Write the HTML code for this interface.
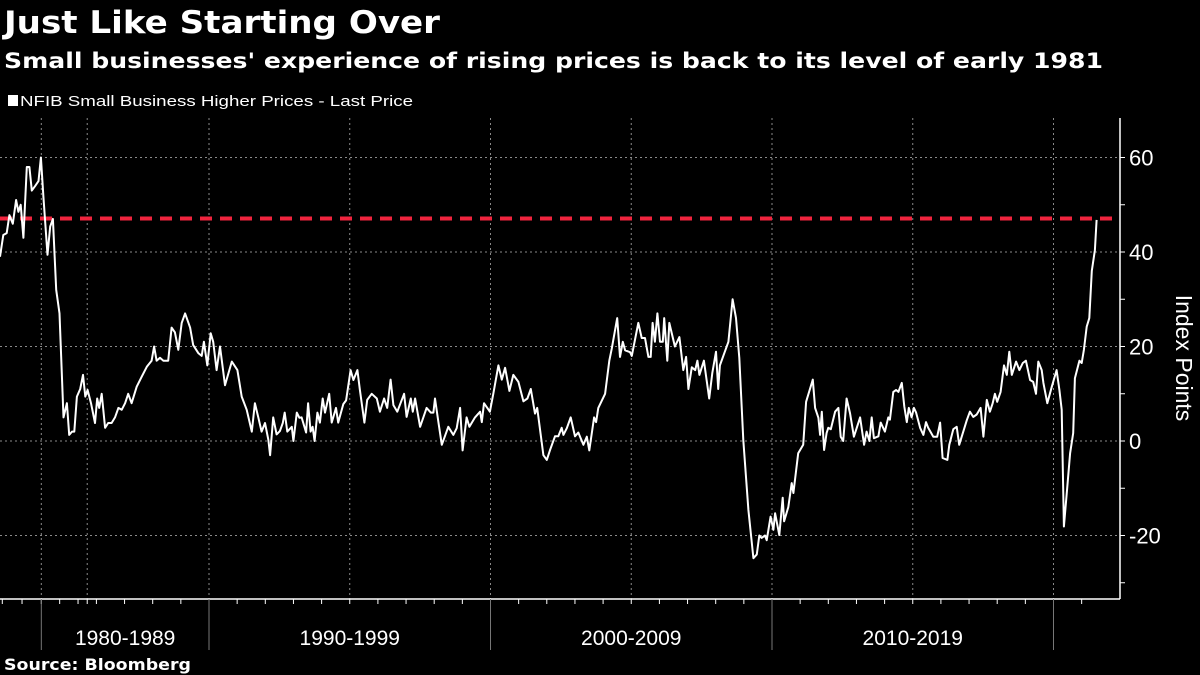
<!DOCTYPE html>
<html><head><meta charset="utf-8">
<style>
html,body{margin:0;padding:0;background:#000;}
svg{display:block;font-family:"Liberation Sans","DejaVu Sans",sans-serif;}
</style></head>
<body>
<svg id="chart" width="1200" height="675" viewBox="0 0 1200 675">
<rect x="0" y="0" width="1200" height="675" fill="#000"/>
<text x="4" y="33" fill="#fff" font-size="31" font-weight="bold" textLength="436" lengthAdjust="spacingAndGlyphs" font-family="DejaVu Sans, sans-serif">Just Like Starting Over</text>
<text x="4" y="68" fill="#fff" font-size="21" font-weight="bold" textLength="1099" lengthAdjust="spacingAndGlyphs" font-family="DejaVu Sans, sans-serif">Small businesses' experience of rising prices is back to its level of early 1981</text>
<g>
<rect x="8" y="95" width="10" height="11" fill="#fff"/>
<text x="20" y="106" fill="#fff" font-size="15" textLength="393" lengthAdjust="spacingAndGlyphs">NFIB Small Business Higher Prices - Last Price</text>
</g>
<g id="grid"></g>
<g id="xaxis"></g>
<g id="yaxis"></g>
<g id="series"></g>
<text transform="translate(1176,358) rotate(90)" fill="#fff" font-size="23" text-anchor="middle">Index Points</text>
<text x="4" y="670" fill="#fff" font-size="16" font-weight="bold" textLength="187" lengthAdjust="spacingAndGlyphs" font-family="DejaVu Sans, sans-serif">Source: Bloomberg</text>
</svg>
<script>
const dates = [1975.50,1975.86,1976.23,1976.52,1976.89,1977.25,1977.50,1977.76,1978.05,1978.42,1978.70,1978.96,1979.33,1979.69,1979.95,1980.23,1980.67,1980.97,1981.26,1981.62,1981.98,1982.42,1982.79,1983.04,1983.34,1983.59,1983.88,1984.24,1984.54,1984.79,1985.04,1985.41,1985.85,
1986.03,1986.10,1986.19,1986.31,1986.42,1986.54,1986.66,1986.78,1986.90,1987.02,1987.13,1987.25,1987.43,1987.61,1987.79,1987.96,1988.05,1988.14,1988.26,1988.38,1988.55,1988.67,1988.79,1988.91,1989.03,1989.15,1989.33,1989.44,1989.62,1989.74,1989.82,1989.94,
1990.06,1990.15,1990.27,1990.39,1990.57,1990.81,1991.01,1991.16,1991.34,1991.52,1991.63,1991.75,1991.87,1991.99,1992.11,1992.17,1992.28,1992.40,1992.52,1992.62,1992.69,1992.78,1992.94,1993.00,1993.12,1993.21,1993.29,1993.45,1993.52,1993.61,1993.68,1993.75,1993.85,1993.94,
1994.04,1994.12,1994.27,1994.36,1994.51,1994.59,1994.77,1994.87,1995.03,1995.13,1995.27,1995.36,1995.52,1995.62,1995.78,1995.96,1996.07,1996.22,1996.33,1996.45,1996.55,1996.69,1996.93,1997.02,1997.17,1997.24,1997.32,1997.50,1997.73,1997.88,1997.97,
1998.03,1998.15,1998.27,1998.50,1998.68,1998.80,1998.92,1999.01,1999.15,1999.25,1999.45,1999.63,1999.69,1999.77,1999.98,2000.10,2000.28,2000.40,2000.52,2000.67,2000.81,2000.99,2001.17,2001.31,2001.43,2001.58,2001.66,2001.88,2002.00,2002.11,2002.29,2002.41,2002.53,2002.59,2002.71,2002.85,2003.00,2003.12,
2003.30,2003.42,2003.51,2003.68,2003.75,2003.83,2004.07,2004.22,2004.31,2004.50,2004.60,2004.70,2004.78,2004.96,2005.02,2005.25,2005.37,2005.49,2005.61,2005.69,2005.76,2005.84,2005.93,2006.02,2006.12,2006.17,2006.28,2006.35,2006.55,2006.71,2006.85,2006.95,
2007.03,2007.15,2007.27,2007.35,2007.42,2007.58,2007.77,2007.88,2008.01,2008.09,2008.15,2008.45,2008.60,2008.72,2008.84,2008.98,2009.16,2009.34,2009.46,2009.55,2009.63,2009.75,2009.81,2009.95,2010.05,2010.11,2010.26,2010.38,2010.43,2010.58,2010.70,2010.76,2010.93,
2011.11,2011.21,2011.45,2011.53,2011.65,2011.71,2011.77,2011.85,2011.94,2012.00,2012.09,2012.24,2012.36,2012.44,2012.53,2012.65,2012.77,2012.91,2013.13,2013.27,2013.36,2013.46,2013.54,2013.62,2013.78,2013.86,2014.01,2014.13,2014.19,2014.31,2014.41,2014.49,2014.61,2014.70,2014.79,2014.86,2014.96,
2015.04,2015.12,2015.26,2015.38,2015.47,2015.55,2015.73,2015.87,2015.97,2016.06,2016.23,2016.30,2016.44,2016.56,2016.65,2016.92,2017.03,2017.15,2017.27,2017.41,2017.51,2017.63,2017.74,2017.84,2017.92,2018.00,2018.12,2018.24,2018.34,2018.43,2018.52,2018.67,2018.79,2018.91,
2019.02,2019.17,2019.28,2019.38,2019.46,2019.58,2019.64,2019.78,2019.94,2020.11,2020.21,2020.29,2020.37,2020.49,2020.59,2020.70,2020.76,2020.92,2021.00,2021.08,2021.18,2021.27,2021.36,2021.47,2021.53];
const values = [39,43.6,44,47.8,46,51,48.5,50,43,58,58,53,54,55,60,51.7,39.4,45.4,47,32,27,5,8,1.3,2,2,9.4,11,14,9.4,10.8,8,3.8,
9,7,10,2.8,3.8,3.8,5,7,6.6,8,10,8,11.5,13.6,15.7,17,20,17,17.6,17,17,24,23,19.3,25,27,24,20.3,18.6,18,21,16,
22.8,21,15,20,11.8,16.8,15,9.4,6.6,2,8,5,2,3.8,0.2,-3,5,1.4,2.1,3.8,6,2,3,0,6,4.9,5,1.8,8,2,3,0,6,3.9,
9,6,10,3.9,7,3.9,7.8,8.6,15,12.9,15,10.8,3.9,8.7,10,9,6.2,9,7,13,7.6,6.2,10,5.1,9,6.2,9,3,7,6,6,
9,4,-0.8,3,1.3,2.7,7,-2,5,3,5,6.2,4,8,6.2,10,16,13,15.5,10.6,14,12.5,8.4,9,11,5.8,7,-3,-4,-2,1,1,2.8,1.3,2.7,5,1,1.8,
-0.8,0.9,-2,5,4,7,10,17,19.6,26,17.8,21,19.2,18.8,18,25,21.8,21.8,17.8,17.8,25,21,27,21,21,26,17,25,20,22,15,17.8,
11,15.6,15,17,14,17,9,14.4,18.9,11,16,21,30,26,17.6,0.2,-14.6,-24.8,-24,-20,-20.5,-20,-21,-16,-18.8,-15.3,-19.9,-12,-17,-14,-8.9,-11,-2.6,
-0.8,8.3,13,7,4.9,1.3,6.2,-1.9,1.7,2.8,2.5,6.2,7,0.9,0,9,5.9,0.9,5,-0.8,2,0,5,0.6,1,3.9,2,5,4.5,10.4,10.8,10.4,12.3,7.3,4,7,5,
7,6,2.8,1.3,4,2.8,0.9,0.9,3.9,-3.6,-4,-0.8,2.5,3,-0.8,4.4,6.2,5.1,5.6,7,0.9,8.7,6.2,8,10,8.3,10.4,16,14,18.9,14,16.8,15,16.5,
17,12.9,12.5,10,16.8,15,12.3,8,11.5,15,10.8,6.6,-18.1,-9.7,-2.6,1.7,13.3,17,16.5,19.3,24.2,26,36,40.4,46.8];
const referenceLevel = [47.1];
const yTicks = [60,40,20,0,-20];
const yMinorTicks = [60,50,40,30,20,10,0,-10,-20,-30];
const gridYears = [1980,1985,1990,1995,2000,2005,2010,2015,2020];
const decadeBounds = [1980,1990,2000,2010,2020];
const decadeLabels = ["1980-1989","1990-1999","2000-2009","2010-2019"];
const xTickYears = [1975.75,1977.9,1980,1982,1984,1985,1986,1987,1988,1989,1990,1991,1992,1993,1994,1995,1996,1997,1998,1999,2000,2001,2002,2003,2004,2005,2006,2007,2008,2009,2010,2011,2012,2013,2014,2015,2016,2017,2018,2019,2020,2021];

const NS = "http://www.w3.org/2000/svg";
const plotLeft = 0, plotRight = 1120, plotTop = 118, plotBottom = 599;
function x(t){ return t < 1986 ? (t - 1975.5) * (96.4/10.5) : 209 + (t - 1990) * 28.15; }
function y(v){ return 441 - v * 4.725; }
function mk(tag, attrs, parent){
  const e = document.createElementNS(NS, tag);
  for (const k in attrs) e.setAttribute(k, attrs[k]);
  parent.appendChild(e);
  return e;
}
const grid = document.getElementById('grid');
const xaxis = document.getElementById('xaxis');
const yaxis = document.getElementById('yaxis');
const series = document.getElementById('series');

yTicks.forEach(v => {
  const l = mk('line', {x1: plotLeft, x2: plotRight, y1: y(v), y2: y(v), stroke: '#8a8a8a', 'stroke-width': 1, 'stroke-dasharray': '2,3'}, grid);
  
  
});
gridYears.forEach(t => {
  const l = mk('line', {x1: x(t), x2: x(t), y1: plotTop, y2: plotBottom, stroke: '#8a8a8a', 'stroke-width': 1, 'stroke-dasharray': '2,3'}, grid);
  
  
});

const ya = mk('line', {x1: plotRight, x2: plotRight, y1: plotTop, y2: plotBottom, stroke: '#fff', 'stroke-width': 1.5}, yaxis);


yMinorTicks.forEach(v => {
  const t = mk('line', {x1: plotRight, x2: plotRight + 5, y1: y(v), y2: y(v), stroke: '#fff', 'stroke-width': 1}, yaxis);
  
  
});
yTicks.forEach(v => {
  const t = mk('text', {x: 1129, y: y(v) + 8, fill: '#fff', 'font-size': 22}, yaxis);
  t.textContent = v < 0 ? '-' + Math.abs(v) : String(v);
  
  
});

const xa = mk('line', {x1: 0, x2: plotRight, y1: plotBottom, y2: plotBottom, stroke: '#fff', 'stroke-width': 1.5}, xaxis);


xTickYears.forEach(yr => {
  const t = mk('line', {x1: x(yr), x2: x(yr), y1: plotBottom, y2: plotBottom + 5, stroke: '#fff', 'stroke-width': 1}, xaxis);
  
  
});
decadeBounds.forEach(t => {
  const l = mk('line', {x1: x(t), x2: x(t), y1: plotBottom, y2: 650, stroke: '#777', 'stroke-width': 1}, xaxis);
  
  
});
decadeLabels.forEach((lab, i) => {
  const cx = (x(decadeBounds[i]) + x(decadeBounds[i + 1])) / 2;
  const t = mk('text', {x: cx, y: 645, fill: '#fff', 'font-size': 21, 'text-anchor': 'middle'}, xaxis);
  t.textContent = lab;
  
  
});

referenceLevel.forEach(v => {
  const r = mk('line', {x1: 0, x2: 1113, y1: y(v), y2: y(v), stroke: '#f0243e', 'stroke-width': 4, 'stroke-dasharray': '12,8'}, series);
  
  
});

let d = '';
dates.forEach((t, i) => { d += (i ? 'L' : 'M') + x(t).toFixed(1) + ',' + y(values[i]).toFixed(1); });
const p = mk('path', {d: d, fill: 'none', stroke: '#fff', 'stroke-width': 2, 'stroke-linejoin': 'round'}, series);


</script>
</body></html>
